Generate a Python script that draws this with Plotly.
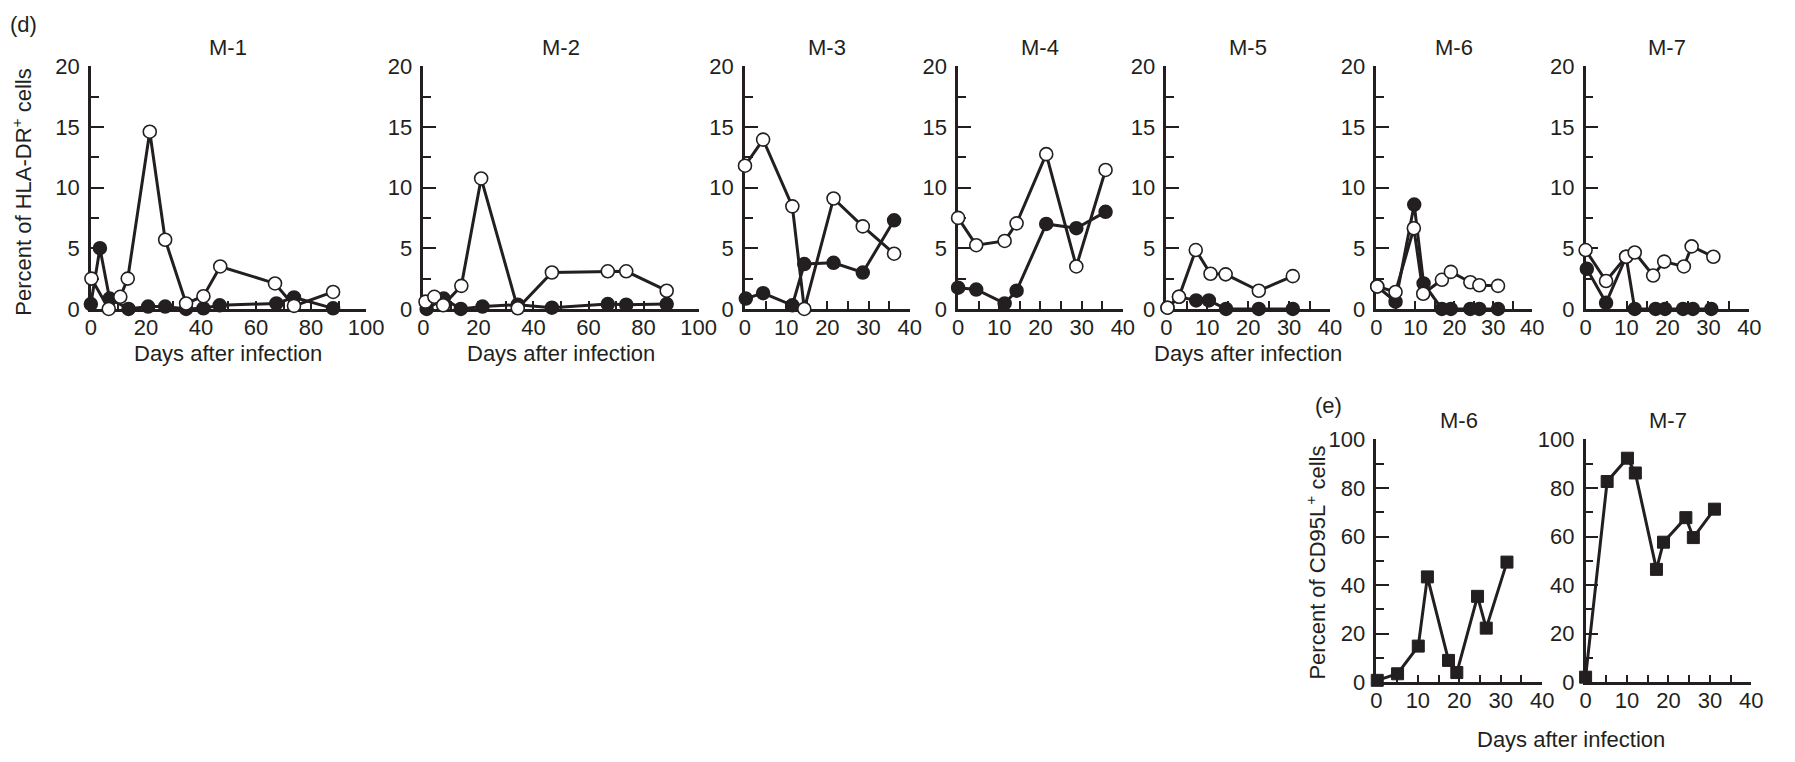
import plotly.graph_objects as go

W, H = 1795, 762
INK = "#231f20"
FONT = "Liberation Sans"
FS = 22

# ---------------- data (d): % HLA-DR+ cells ----------------
m1_open_days = [0.2, 6.5, 10.7, 13.4, 21.4, 27.0, 34.6, 40.9, 47.0, 66.9, 73.8, 88.0]
m1_open_vals = [2.5, 0.0, 1.0, 2.5, 14.6, 5.7, 0.45, 1.05, 3.5, 2.1, 0.25, 1.4]
m1_fill_days = [0.0, 3.3, 6.8, 13.7, 20.8, 27.0, 34.6, 40.9, 46.8, 67.4, 73.8, 88.0]
m1_fill_vals = [0.4, 5.0, 0.85, 0.0, 0.2, 0.2, 0.0, 0.05, 0.3, 0.45, 0.95, 0.05]

m2_open_days = [0.8, 4.0, 7.2, 13.8, 21.0, 34.3, 46.7, 67.0, 73.7, 88.4]
m2_open_vals = [0.6, 1.0, 0.3, 1.9, 10.75, 0.05, 3.0, 3.1, 3.1, 1.5]
m2_fill_days = [1.2, 7.4, 13.6, 21.5, 34.3, 46.7, 67.0, 73.7, 88.4]
m2_fill_vals = [0.0, 0.85, 0.0, 0.2, 0.35, 0.1, 0.4, 0.35, 0.4]

m3_open_days = [0.0, 4.4, 11.5, 14.4, 21.5, 28.6, 36.2]
m3_open_vals = [11.8, 13.95, 8.45, 0.0, 9.1, 6.8, 4.55]
m3_fill_days = [0.2, 4.4, 11.5, 14.4, 21.5, 28.6, 36.2]
m3_fill_vals = [0.85, 1.3, 0.3, 3.7, 3.8, 3.0, 7.3]

m4_open_days = [0.0, 4.4, 11.3, 14.2, 21.4, 28.7, 35.8]
m4_open_vals = [7.5, 5.25, 5.6, 7.05, 12.75, 3.5, 11.45]
m4_fill_days = [0.0, 4.4, 11.3, 14.2, 21.4, 28.7, 35.8]
m4_fill_vals = [1.75, 1.6, 0.45, 1.5, 7.0, 6.65, 8.0]

m5_open_days = [0.3, 3.1, 7.2, 10.8, 14.5, 22.6, 30.9]
m5_open_vals = [0.1, 1.0, 4.85, 2.9, 2.85, 1.5, 2.7]
m5_fill_days = [0.3, 3.1, 7.3, 10.4, 14.6, 22.6, 30.9]
m5_fill_vals = [0.1, 1.0, 0.7, 0.7, 0.0, 0.0, 0.0]

m6_open_days = [0.2, 4.9, 9.6, 12.0, 16.8, 19.1, 24.1, 26.4, 31.2]
m6_open_vals = [1.85, 1.4, 6.65, 1.25, 2.4, 3.05, 2.2, 1.95, 1.9]
m6_fill_days = [0.2, 4.9, 9.7, 12.1, 16.8, 19.1, 24.1, 26.4, 31.2]
m6_fill_vals = [1.85, 0.6, 8.6, 2.1, 0.0, 0.0, 0.0, 0.0, 0.0]

m7_open_days = [0.0, 5.0, 9.9, 12.0, 16.5, 19.2, 24.0, 25.9, 31.2]
m7_open_vals = [4.85, 2.3, 4.3, 4.65, 2.75, 3.9, 3.5, 5.15, 4.3]
m7_fill_days = [0.3, 5.0, 9.9, 12.0, 17.1, 19.4, 23.8, 26.2, 30.7]
m7_fill_vals = [3.3, 0.5, 4.3, 0.0, 0.0, 0.0, 0.0, 0.0, 0.0]

# ---------------- data (e): % CD95L+ cells ----------------
e6_days = [0.2, 5.1, 10.1, 12.3, 17.4, 19.4, 24.4, 26.5, 31.5]
e6_vals = [0.8, 3.5, 14.9, 43.4, 9.0, 4.0, 35.4, 22.3, 49.5]
e7_days = [0.0, 5.2, 10.1, 12.0, 17.1, 18.8, 24.2, 26.0, 31.1]
e7_vals = [2.1, 82.7, 92.3, 86.2, 46.5, 57.7, 67.8, 59.6, 71.3]

# ---------------- layout geometry (pixels) ----------------
d_panels = [
    ("M-1", 86, 365, 100, m1_open_days, m1_open_vals, m1_fill_days, m1_fill_vals),
    ("M-2", 423, 702, 100, m2_open_days, m2_open_vals, m2_fill_days, m2_fill_vals),
    ("M-3", 749, 916, 40, m3_open_days, m3_open_vals, m3_fill_days, m3_fill_vals),
    ("M-4", 965, 1132, 40, m4_open_days, m4_open_vals, m4_fill_days, m4_fill_vals),
    ("M-5", 1176, 1342, 40, m5_open_days, m5_open_vals, m5_fill_days, m5_fill_vals),
    ("M-6", 1389, 1547, 40, m6_open_days, m6_open_vals, m6_fill_days, m6_fill_vals),
    ("M-7", 1601, 1767, 40, m7_open_days, m7_open_vals, m7_fill_days, m7_fill_vals),
]
D_Y0, D_Y1 = 307, 56
e_panels = [
    ("M-6", 1389, 1557, e6_days, e6_vals),
    ("M-7", 1601, 1769, e7_days, e7_vals),
]
E_Y0, E_Y1 = 693, 442


def px(x):
    return x / W


def py(y):
    return 1 - y / H


fig = go.Figure()
annotations = []
tfont = dict(family=FONT, size=FS, color=INK)


def axis_common():
    return dict(showline=True, linewidth=2.5, linecolor=INK, showgrid=False, zeroline=False,
                ticks="inside", tickcolor=INK, tickwidth=2, layer="below traces",
                tickfont=tfont, fixedrange=True)


idx = 0
for name, x0, x1, xmax, od, ov, fd, fv in d_panels:
    idx += 1
    xa = "x" if idx == 1 else f"x{idx}"
    ya = "y" if idx == 1 else f"y{idx}"
    fig.add_trace(go.Scatter(x=fd, y=fv, xaxis=xa, yaxis=ya, mode="lines+markers",
                             line=dict(color=INK, width=3),
                             marker=dict(symbol="circle", size=13, color=INK, line=dict(color=INK, width=1.5)),
                             cliponaxis=False, showlegend=False))
    fig.add_trace(go.Scatter(x=od, y=ov, xaxis=xa, yaxis=ya, mode="lines+markers",
                             line=dict(color=INK, width=3),
                             marker=dict(symbol="circle", size=13, color="white", line=dict(color=INK, width=1.6)),
                             cliponaxis=False, showlegend=False))
    big = xmax == 100
    xax = axis_common()
    xax.update(domain=[px(x0), px(x1)], range=[0, xmax], anchor=ya,
               tickmode="linear", tick0=0, dtick=20 if big else 10, ticklen=8,
               minor=dict(dtick=10 if big else 5, ticks="inside", ticklen=8, tickcolor=INK, tickwidth=2),
               ticklabelstandoff=-3)
    yax = axis_common()
    yax.update(domain=[py(D_Y0), py(D_Y1)], range=[0, 20], anchor=xa,
               tickmode="linear", tick0=0, dtick=5, ticklen=13,
               minor=dict(dtick=2.5, ticks="inside", ticklen=8, tickcolor=INK, tickwidth=2),
               ticklabelstandoff=4)
    fig.update_layout(**{("xaxis" if idx == 1 else f"xaxis{idx}"): xax,
                         ("yaxis" if idx == 1 else f"yaxis{idx}"): yax})
    annotations.append(dict(text=name, x=px((x0 + x1) / 2), y=py(37), xref="paper", yref="paper",
                            showarrow=False, xanchor="center", yanchor="middle", font=tfont))
    if name in ("M-1", "M-2", "M-5"):
        annotations.append(dict(text="Days after infection", x=px((x0 + x1) / 2), y=py(353),
                                xref="paper", yref="paper", showarrow=False,
                                xanchor="center", yanchor="middle", font=tfont))

for name, x0, x1, ed, ev in e_panels:
    idx += 1
    xa = f"x{idx}"
    ya = f"y{idx}"
    fig.add_trace(go.Scatter(x=ed, y=ev, xaxis=xa, yaxis=ya, mode="lines+markers",
                             line=dict(color=INK, width=3),
                             marker=dict(symbol="square", size=12, color=INK, line=dict(color=INK, width=1)),
                             cliponaxis=False, showlegend=False))
    xax = axis_common()
    xax.update(domain=[px(x0), px(x1)], range=[0, 40], anchor=ya,
               tickmode="linear", tick0=0, dtick=10, ticklen=8,
               minor=dict(dtick=5, ticks="inside", ticklen=8, tickcolor=INK, tickwidth=2),
               ticklabelstandoff=-3)
    yax = axis_common()
    yax.update(domain=[py(E_Y0), py(E_Y1)], range=[0, 100], anchor=xa,
               tickmode="linear", tick0=0, dtick=20, ticklen=13,
               minor=dict(dtick=10, ticks="inside", ticklen=8, tickcolor=INK, tickwidth=2),
               ticklabelstandoff=4)
    fig.update_layout(**{f"xaxis{idx}": xax, f"yaxis{idx}": yax})
    annotations.append(dict(text=name, x=px((x0 + x1) / 2), y=py(422), xref="paper", yref="paper",
                            showarrow=False, xanchor="center", yanchor="middle", font=tfont))

annotations += [
    dict(text="(d)", x=px(2), y=py(13), xref="paper", yref="paper", showarrow=False,
         xanchor="left", yanchor="middle", font=tfont),
    dict(text="(e)", x=px(1325), y=py(407), xref="paper", yref="paper", showarrow=False,
         xanchor="left", yanchor="middle", font=tfont),
    dict(text="Percent of HLA-DR<sup>+</sup> cells", x=px(16), y=py(186), xref="paper", yref="paper",
         showarrow=False, textangle=-90, xanchor="center", yanchor="middle", font=tfont),
    dict(text="Percent of CD95L<sup>+</sup> cells", x=px(1328), y=py(569), xref="paper", yref="paper",
         showarrow=False, textangle=-90, xanchor="center", yanchor="middle", font=tfont),
    dict(text="Days after infection", x=px(1586), y=py(752), xref="paper", yref="paper",
         showarrow=False, xanchor="center", yanchor="middle", font=tfont),
]

fig.update_layout(width=W, height=H, margin=dict(l=0, r=0, t=0, b=0),
                  paper_bgcolor="white", plot_bgcolor="white",
                  annotations=annotations, font=tfont)

fig.write_html("out.html", config={"displayModeBar": False})
